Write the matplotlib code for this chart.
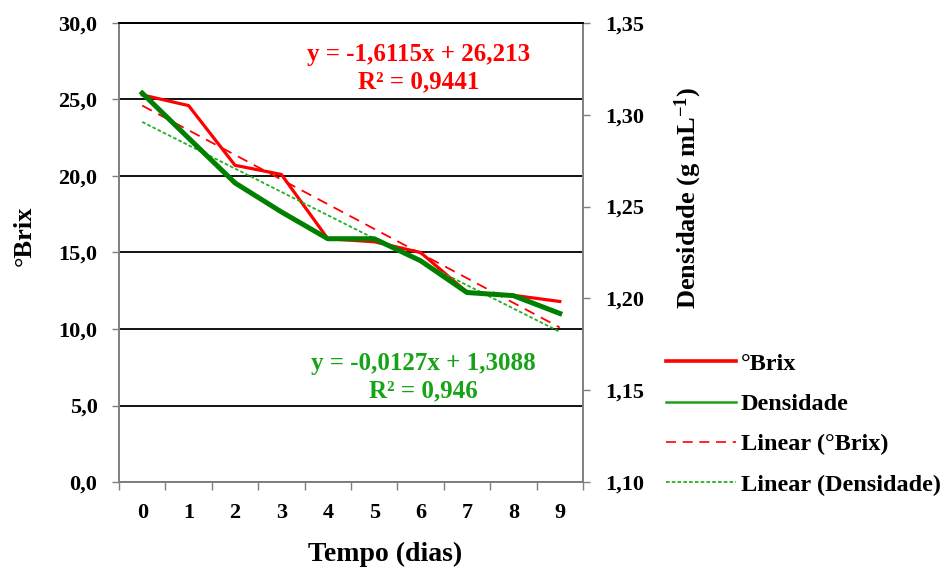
"""Brix and density decline over fermentation time, with linear trends (Excel-style chart)."""

import matplotlib.pyplot as plt
import numpy as np
from matplotlib.lines import Line2D
from matplotlib.ticker import FixedLocator, FuncFormatter

plt.rcParams["font.family"] = ["Liberation Serif", "DejaVu Serif"]
plt.rcParams["font.weight"] = "bold"
plt.rcParams["axes.labelweight"] = "bold"
plt.rcParams["mathtext.fontset"] = "custom"
plt.rcParams["mathtext.rm"] = "Liberation Serif:bold"
plt.rcParams["mathtext.it"] = "Liberation Serif:bold"
plt.rcParams["mathtext.bf"] = "Liberation Serif:bold"

# data
dias = [0, 1, 2, 3, 4, 5, 6, 7, 8, 9]
brix = [25.3, 24.6, 20.7, 20.1, 15.9, 15.7, 15.0, 12.4, 12.2, 11.8]
densidade = [1.3118, 1.2873, 1.2629, 1.2471, 1.2325, 1.2325, 1.2205, 1.2032, 1.2015, 1.1918]

# trend equations as printed on the chart (Excel x runs 1..10)
brix_fit = (-1.6115, 26.213, 0.9441)
dens_fit = (-0.0127, 1.3088, 0.946)

RED = "#ff0000"
GREEN = "#008000"
GREEN_TXT = "#17a317"
GRAY = "#7f7f7f"


def comma(v, decimals):
    return f"{v:.{decimals}f}".replace(".", ",")


fig = plt.figure(figsize=(9.49, 5.73), dpi=100)
ax = fig.add_axes([0.1254, 0.1588, 0.4889, 0.8011])
ax2 = ax.twinx()

x = np.array(dias)
xe = x + 1
ax.plot(x, brix, color=RED, lw=2.3, zorder=4)
ax.plot(x, brix_fit[0] * xe + brix_fit[1], color=RED, lw=1.3, ls=(0, (6, 4)), zorder=3)
ax2.plot(x, densidade, color=GREEN, lw=3.6, zorder=4)
ax2.plot(x, dens_fit[0] * xe + dens_fit[1], color="#22b022", lw=1.3, ls=(0, (2, 1.2)), zorder=3)

ax.set_xlim(-0.5, 9.5)
ax.set_ylim(0, 30)
ax2.set_ylim(1.10, 1.35)
ax.set_yticks(np.arange(0, 30.1, 5))
ax2.set_yticks(np.arange(1.10, 1.351, 0.05))
ax.yaxis.set_major_formatter(FuncFormatter(lambda v, _: comma(v, 1)))
ax2.yaxis.set_major_formatter(FuncFormatter(lambda v, _: comma(v, 2)))
ax.set_xticks(dias)
ax.set_xticklabels([str(d) for d in dias])
ax.xaxis.set_minor_locator(FixedLocator(np.arange(-0.5, 9.6, 1)))
ax.tick_params(axis="x", which="major", length=0, pad=15, labelsize=16)
ax.tick_params(axis="x", which="minor", length=6, color=GRAY, width=1)
ax.tick_params(axis="y", length=5, color=GRAY, width=1, labelsize=16, pad=10.5)
ax2.tick_params(axis="y", length=5, color=GRAY, width=1, labelsize=16, pad=11)

for a in (ax, ax2):
    for side in ("left", "right", "bottom"):
        a.spines[side].set_color(GRAY)
        a.spines[side].set_linewidth(1.2)
    a.spines["top"].set_color("black")
    a.spines["top"].set_linewidth(1.3)

ax.grid(axis="y", color="black", lw=1.3)
ax.set_axisbelow(True)

ax.set_xlabel("Tempo (dias)", fontsize=20, fontweight="bold")
ax.set_ylabel("°Brix", fontsize=19, fontweight="bold")
ax2.set_ylabel(r"Densidade (g mL$^{-1}$)", fontsize=19, fontweight="bold")
# Excel placed the axis titles off-centre; pin them where the reference has them
ax.xaxis.set_label_coords(0.573, -0.131)
ax.yaxis.set_label_coords(-0.18, 0.536)
ax2.yaxis.set_label_coords(1.194, 0.619)

ax.text(0.646, 0.902,
        f"y = {comma(brix_fit[0], 4)}x + {comma(brix_fit[1], 3)}\nR² = {comma(brix_fit[2], 4)}",
        transform=ax.transAxes, ha="center", va="center", color=RED, fontsize=18,
        fontweight="bold", linespacing=1.22, zorder=6)
ax.text(0.655, 0.228,
        f"y = {comma(dens_fit[0], 4)}x + {comma(dens_fit[1], 4)}\nR² = {comma(dens_fit[2], 3)}",
        transform=ax.transAxes, ha="center", va="center", color=GREEN_TXT, fontsize=18,
        fontweight="bold", linespacing=1.22, zorder=6)

handles = [
    Line2D([], [], color=RED, lw=2.6),
    Line2D([], [], color="#1ea01e", lw=1.8),
    Line2D([], [], color=RED, lw=1.2, ls=(0, (6, 4))),
    Line2D([], [], color="#22b022", lw=1.3, ls=(0, (2, 1.2))),
]
labels = ["°Brix", "Densidade", "Linear (°Brix)", "Linear (Densidade)"]
fig.legend(handles, labels, loc="upper left", bbox_to_anchor=(0.692, 0.401),
           frameon=False, prop={"size": 17.5, "weight": "bold"}, handlelength=2.85,
           handletextpad=0.2, labelspacing=0.75, borderaxespad=0)

fig.savefig("out.png", dpi=100)
